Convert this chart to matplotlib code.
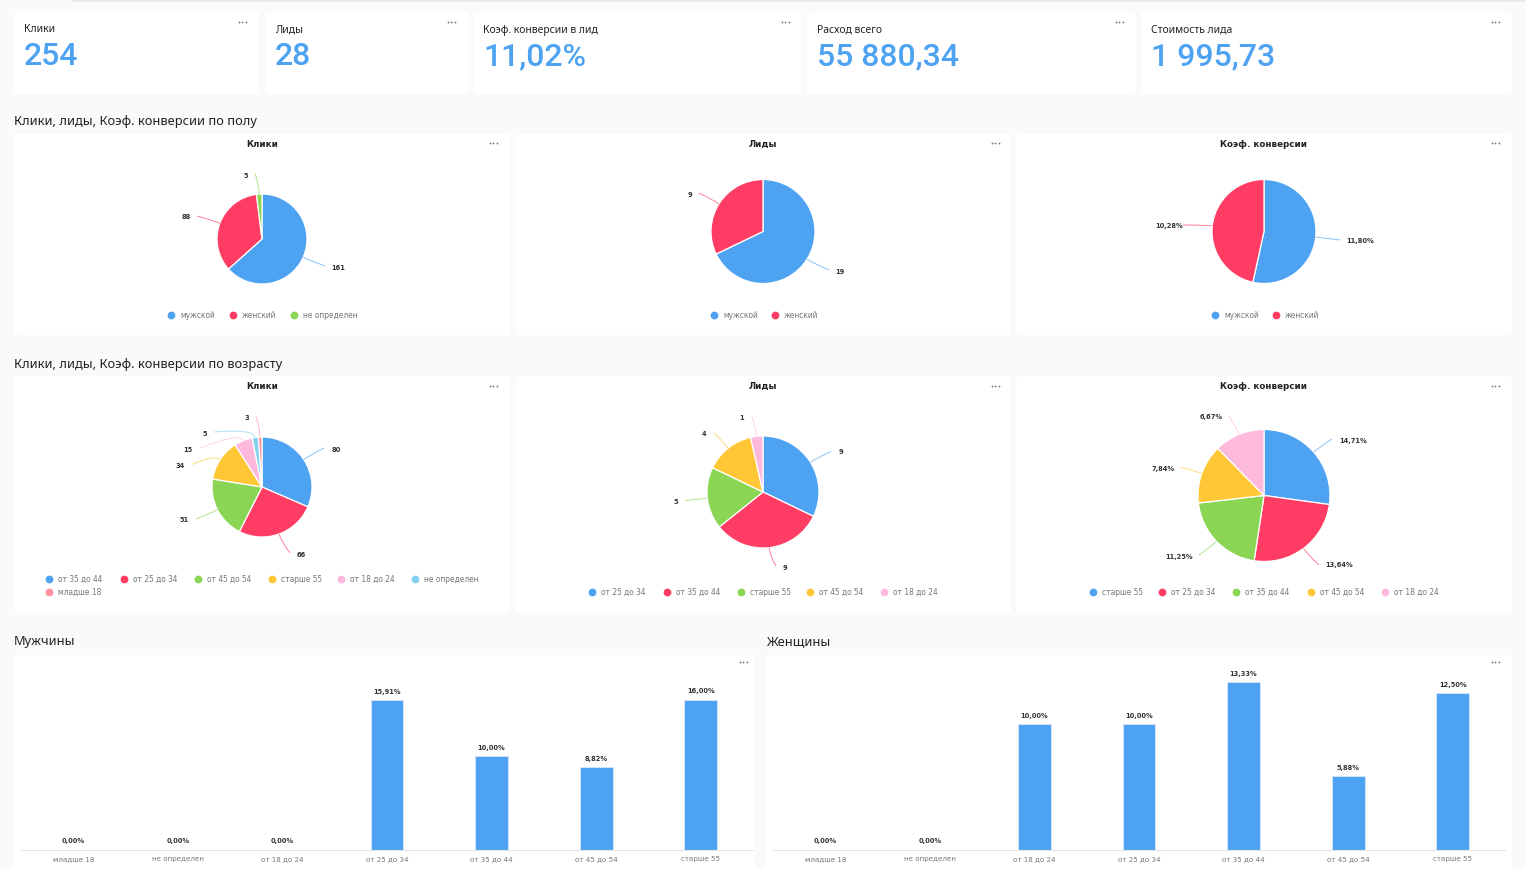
import matplotlib
matplotlib.use("Agg")
import matplotlib.pyplot as plt
import numpy as np
from matplotlib.patches import FancyBboxPatch, PathPatch, Rectangle
from matplotlib.path import Path

# ---------- data ----------
kpi_titles = ["Клики", "Лиды", "Коэф. конверсии в лид", "Расход всего", "Стоимость лида"]
kpi_values = ["254", "28", "11,02%", "55 880,34", "1 995,73"]

gender_clicks_cats = ["мужской", "женский", "не определен"]
gender_clicks = [161, 88, 5]
gender_leads_cats = ["мужской", "женский"]
gender_leads = [19, 9]
gender_conv_cats = ["мужской", "женский"]
gender_conv = [11.80, 10.28]

age_clicks_cats = ["от 35 до 44", "от 25 до 34", "от 45 до 54", "старше 55", "от 18 до 24", "не определен", "младше 18"]
age_clicks = [80, 66, 51, 34, 15, 5, 3]
age_leads_cats = ["от 25 до 34", "от 35 до 44", "старше 55", "от 45 до 54", "от 18 до 24"]
age_leads = [9, 9, 5, 4, 1]
age_conv_cats = ["старше 55", "от 25 до 34", "от 35 до 44", "от 45 до 54", "от 18 до 24"]
age_conv = [14.71, 13.64, 11.25, 7.84, 6.67]

bar_cats = ["младше 18", "не определен", "от 18 до 24", "от 25 до 34", "от 35 до 44", "от 45 до 54", "старше 55"]
men_conv = [0.00, 0.00, 0.00, 15.91, 10.00, 8.82, 16.00]
women_conv = [0.00, 0.00, 10.00, 10.00, 13.33, 5.88, 12.50]

# ---------- style ----------
W, H = 1526, 869
BG = "#fafafa"
PALETTE = ["#4DA2F1", "#FF3D64", "#8AD554", "#FFC636", "#FFB9DD", "#84D1EE", "#FF91A1"]
SANS = ["Noto Sans", "DejaVu Sans"]
WIDE = ["DejaVu Sans"]

def fmt(v, pct):
    return (f"{v:.2f}".replace(".", ",") + "%") if pct else str(v)

fig = plt.figure(figsize=(W / 100, H / 100), dpi=100, facecolor=BG)

def px_axes(x0, y0, x1, y1, z):
    a = fig.add_axes([x0 / W, 1 - y1 / H, (x1 - x0) / W, (y1 - y0) / H], zorder=z)
    a.patch.set_alpha(0)
    return a

back = px_axes(0, 0, W, H, 0)
back.set_xlim(0, W); back.set_ylim(H, 0); back.axis("off")
top = px_axes(0, 0, W, H, 3)
top.set_xlim(0, W); top.set_ylim(H, 0); top.axis("off")

def panel(x0, y0, x1, y1, dots=None):
    back.add_patch(FancyBboxPatch((x0 + 2, y0 + 2), x1 - x0 - 4, y1 - y0 - 4,
                                  boxstyle="round,pad=2,rounding_size=3",
                                  fc="white", ec="none"))
    if dots:
        top.plot([dots[0] - 3.5, dots[0], dots[0] + 3.5], [dots[1]] * 3, ls="none",
                 marker="o", ms=1.3, mec="none", color="#777777")

back.add_patch(Rectangle((72, 0), W - 72, 2, fc="#e9e9e9", ec="none"))

# KPI cards
cards = [(14, 259, 242), (265, 468, 451), (473, 802, 785), (807, 1136, 1119), (1141, 1512, 1495)]
text_x = [24, 275, 483, 817, 1151]
for (x0, x1, dx), tx, t, v in zip(cards, text_x, kpi_titles, kpi_values):
    panel(x0, 12, x1, 94, (dx, 21.5))
    top.text(tx, 32.5, t, fontsize=7.45, family=SANS, color="#222222", va="baseline", ha="left")
    top.text(tx, 65, v, fontsize=23, family=["Roboto", "DejaVu Sans"], weight="medium",
             color=PALETTE[0], va="baseline", ha="left")

# Section titles
for tx, ty, t in [(14, 125, "Клики, лиды, Коэф. конверсии по полу"),
                  (14, 368, "Клики, лиды, Коэф. конверсии по возрасту"),
                  (14, 645, "Мужчины"), (766, 645, "Женщины")]:
    top.text(tx, ty, t, fontsize=9.25, family=SANS, weight="medium", color="#222222",
             va="baseline", ha="left")

def pie(cx, cy, r, values, cats, title, title_y, labels, leader_ends,
        legend_x, legend_y, pct=False):
    a = px_axes(cx - r, cy - r, cx + r, cy + r, 1)
    colors = PALETTE[:len(values)]
    a.pie(values, colors=colors, startangle=90, counterclock=False, radius=1,
          wedgeprops=dict(edgecolor="white", linewidth=0.9))
    a.set_xlim(-1, 1); a.set_ylim(-1, 1)
    top.text(cx, title_y, title, fontsize=6.3, family=WIDE, weight="bold", color="#222222",
             ha="center", va="center")
    total = sum(values)
    cum = 0
    for v, c, lab, end in zip(values, colors, labels, leader_ends):
        mid = (cum + v / 2) / total * 2 * np.pi
        cum += v
        sx, sy = cx + r * np.sin(mid), cy - r * np.cos(mid)
        ctl = (cx + (r + 9) * np.sin(mid), cy - (r + 9) * np.cos(mid))
        top.add_patch(PathPatch(Path([(sx, sy), ctl, end],
                                     [Path.MOVETO, Path.CURVE3, Path.CURVE3]),
                                fc="none", ec=c, lw=0.7, alpha=0.65))
        top.text(lab[0], lab[1], fmt(v, pct), fontsize=4.8, family=WIDE, weight="bold",
                 color="#333333", ha="center", va="center")
    for i, (cat, c) in enumerate(zip(cats, colors)):
        lx, ly = legend_x[i], legend_y[i]
        top.plot([lx], [ly], marker="o", ms=5.6, mec="none", color=c)
        top.text(lx + 9, ly + 0.5, cat, fontsize=5.45, family=WIDE, color="#777777",
                 ha="left", va="center")

for x0, x1, dx in [(14, 510, 493), (516, 1011, 995), (1016, 1512, 1495)]:
    panel(x0, 134, x1, 335, (dx, 143))
    panel(x0, 376, x1, 613, (dx, 385.5))

# Gender row
pie(262, 239, 45, gender_clicks, gender_clicks_cats, "Клики", 144.5,
    [(338, 267.5), (186, 217), (245.5, 175.5)],
    [(325, 266), (197, 216), (255, 173)],
    [171, 233, 294], [314.5] * 3)
pie(763, 231.5, 52, gender_leads, gender_leads_cats, "Лиды", 144.5,
    [(840, 271.5), (690, 195)], [(829, 270), (699, 193)],
    [714, 775], [314.5] * 2)
pie(1264, 231.5, 52, gender_conv, gender_conv_cats, "Коэф. конверсии", 144.5,
    [(1360, 241.5), (1169, 226)], [(1340, 240), (1183, 225)],
    [1215, 1276], [314.5] * 2, pct=True)

# Age row
pie(262, 487, 50, age_clicks, age_clicks_cats, "Клики", 386.5,
    [(336, 449.5), (301, 555), (184, 520), (180, 465.5), (188, 449.5), (205, 433.5), (247, 417.5)],
    [(324, 448), (290, 553), (196, 519), (192, 464.5), (200, 448), (214, 432), (256, 416.5)],
    [49, 124, 198, 272, 341, 415, 49], [578.5] * 6 + [592])
pie(763, 492, 56, age_leads, age_leads_cats, "Лиды", 386.5,
    [(841, 452.5), (785, 568.5), (676, 501.5), (704, 433.5), (742, 417.5)],
    [(831, 451.5), (776, 566), (685, 500.5), (714, 433), (752, 417)],
    [592, 667, 741, 810, 884], [592] * 5)
pie(1264, 495.5, 66, age_conv, age_conv_cats, "Коэф. конверсии", 386.5,
    [(1353, 440.5), (1339, 565.5), (1179, 557.5), (1163, 468.5), (1211, 417.5)],
    [(1332, 439), (1319, 565), (1199, 555), (1180, 467), (1229, 416)],
    [1093, 1162, 1236, 1311, 1385], [592] * 5, pct=True)

# Bar charts
def bars(x0, x1, values, ymax):
    a = px_axes(x0, 665, x1, 849.5, 1)
    xs = np.arange(len(values))
    a.bar(xs, values, width=0.315, color=PALETTE[0], edgecolor="#d5e8fb", linewidth=0.6)
    a.set_xlim(-0.5, len(values) - 0.5)
    a.set_ylim(0, ymax)
    a.set_yticks([])
    a.set_xticks(xs)
    a.set_xticklabels(bar_cats, fontsize=5.1, family=WIDE, color="#777777")
    a.tick_params(axis="x", length=0, pad=4.8)
    for s in ["top", "left", "right"]:
        a.spines[s].set_visible(False)
    a.spines["bottom"].set_color("#e6e6e6")
    a.spines["bottom"].set_linewidth(0.8)
    for x, v in zip(xs, values):
        a.annotate(fmt(v, True), (x, v), xytext=(0, 8), textcoords="offset pixels",
                   fontsize=4.8, family=WIDE, weight="bold", color="#333333",
                   ha="center", va="center", annotation_clip=False)

panel(14, 655, 755, 871, (743, 662))
panel(766, 655, 1512, 871, (1495, 662))
bars(21, 753, men_conv, 19.68)
bars(773, 1505, women_conv, 14.69)

fig.savefig("out.png", dpi=100, facecolor=BG)
